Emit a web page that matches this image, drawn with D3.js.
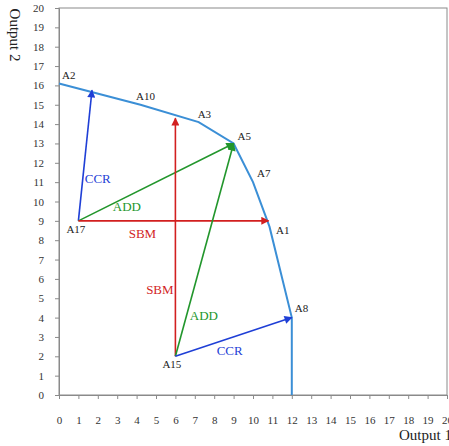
<!DOCTYPE html>
<html>
<head>
<meta charset="utf-8">
<script src="https://cdn.jsdelivr.net/npm/d3@7"></script>
<style>
  body { margin: 0; background: #fff; }
  svg { display: block; font-family: "Liberation Serif", "DejaVu Serif", serif; }
</style>
</head>
<body>
<svg id="chart" width="449" height="446"></svg>
<script>
// frontier points (Output 1, Output 2)
const frontier = [
  { id: 'A2', x: 0, y: 16.1 },
  { id: 'A10', x: 4.2, y: 15 },
  { id: 'A3', x: 7.2, y: 14.1 },
  { id: 'A5', x: 9, y: 13 },
  { id: 'A7', x: 10, y: 11 },
  { id: 'A1', x: 10.85, y: 8.7 },
  { id: 'A8', x: 12, y: 4 },
  { id: '', x: 12, y: 0 }
];

// inefficient units
const units = [
  { id: 'A17', x: 1, y: 9 },
  { id: 'A15', x: 6, y: 2 }
];

// projection arrows: from, to, model
const arrows = [
  { from: [1, 9], to: [1.7, 15.75], model: 'CCR' },
  { from: [1, 9], to: [9, 13], model: 'ADD' },
  { from: [1, 9], to: [10.8, 9], model: 'SBM' },
  { from: [6, 2], to: [6, 14.3], model: 'SBM' },
  { from: [6, 2], to: [9, 13], model: 'ADD' },
  { from: [6, 2], to: [12, 4], model: 'CCR' }
];

// arrow labels (data position)
const arrowLabels = [
  { text: 'CCR', x: 2.0, y: 10.95, model: 'CCR' },
  { text: 'ADD', x: 3.5, y: 9.5, model: 'ADD' },
  { text: 'SBM', x: 4.3, y: 8.1, model: 'SBM' },
  { text: 'SBM', x: 5.2, y: 5.2, model: 'SBM' },
  { text: 'ADD', x: 7.47, y: 3.9, model: 'ADD' },
  { text: 'CCR', x: 8.8, y: 2.05, model: 'CCR' }
];

const ticks = d3.range(0, 21);

const colors = { CCR: '#1f3fd6', ADD: '#22962c', SBM: '#d21f1f' };

const svg = d3.select('#chart');
const x = d3.scaleLinear().domain([0, 20]).range([59, 447]);
const y = d3.scaleLinear().domain([0, 20]).range([395, 8]);

const defs = svg.append('defs');
Object.keys(colors).forEach(k => {
  defs.append('marker')
    .attr('id', 'head-' + k)
    .attr('viewBox', '0 0 10 10')
    .attr('refX', 9).attr('refY', 5)
    .attr('markerWidth', 10).attr('markerHeight', 8)
    .attr('markerUnits', 'userSpaceOnUse')
    .attr('orient', 'auto')
    .append('path')
    .attr('d', 'M0,0 L10,5 L0,10 z')
    .attr('fill', colors[k]);
});

// frame
svg.append('rect')
  .attr('x', x(0)).attr('y', y(20))
  .attr('width', x(20) - x(0)).attr('height', y(0) - y(20))
  .attr('fill', 'none').attr('stroke', '#8a8a8a').attr('stroke-width', 1);

const xAxis = svg.append('g')
  .attr('transform', `translate(0,${y(0)})`)
  .call(d3.axisBottom(x).tickValues(ticks).tickSize(4).tickPadding(17).tickFormat(d3.format('d')));
const yAxis = svg.append('g')
  .attr('transform', `translate(${x(0)},0)`)
  .call(d3.axisLeft(y).tickValues(ticks).tickSize(4).tickPadding(11).tickFormat(d3.format('d')));

[xAxis, yAxis].forEach(g => {
  g.select('.domain').attr('stroke', '#8a8a8a');
  g.selectAll('.tick line').attr('stroke', '#8a8a8a');
  g.selectAll('.tick text')
    .attr('fill', '#333')
    .style('font-family', '"Liberation Serif", serif')
    .style('font-size', '11px');
});

// axis titles
svg.append('text')
  .attr('transform', `translate(10,35) rotate(90)`)
  .attr('text-anchor', 'middle')
  .attr('fill', '#222')
  .style('font-size', '15px')
  .text('Output 2');

svg.append('text')
  .attr('x', 399).attr('y', 440)
  .attr('fill', '#222')
  .style('font-size', '15px')
  .text('Output 1');

// frontier
svg.append('path')
  .datum(frontier)
  .attr('d', d3.line().x(d => x(d.x)).y(d => y(d.y)))
  .attr('fill', 'none')
  .attr('stroke', '#3b8fd6')
  .attr('stroke-width', 2);

// arrows
svg.append('g').selectAll('line')
  .data(arrows)
  .join('line')
  .attr('x1', d => x(d.from[0])).attr('y1', d => y(d.from[1]))
  .attr('x2', d => x(d.to[0])).attr('y2', d => y(d.to[1]))
  .attr('stroke', d => colors[d.model])
  .attr('stroke-width', 1.6)
  .attr('marker-end', d => `url(#head-${d.model})`);

// arrow labels
svg.append('g').selectAll('text')
  .data(arrowLabels)
  .join('text')
  .attr('x', d => x(d.x)).attr('y', d => y(d.y))
  .attr('text-anchor', 'middle')
  .attr('fill', d => colors[d.model])
  .style('font-size', '13px')
  .text(d => d.text);

// point labels (offsets in px from the point)
const pointLabels = [
  { id: 'A2', dx: 3, dy: -4.5 },
  { id: 'A10', dx: -4.5, dy: -5 },
  { id: 'A3', dx: -1, dy: -4 },
  { id: 'A5', dx: 4, dy: -3.5 },
  { id: 'A7', dx: 4, dy: -5 },
  { id: 'A1', dx: 6.5, dy: 7.5 },
  { id: 'A8', dx: 3, dy: -5.5 },
  { id: 'A17', dx: -12, dy: 12 },
  { id: 'A15', dx: -13, dy: 12 }
];
const byId = {};
frontier.concat(units).forEach(p => byId[p.id] = p);

svg.append('g').selectAll('text')
  .data(pointLabels)
  .join('text')
  .attr('x', d => x(byId[d.id].x) + d.dx)
  .attr('y', d => y(byId[d.id].y) + d.dy)
  .attr('fill', '#222')
  .style('font-size', '11px')
  .text(d => d.id);
</script>
</body>
</html>
